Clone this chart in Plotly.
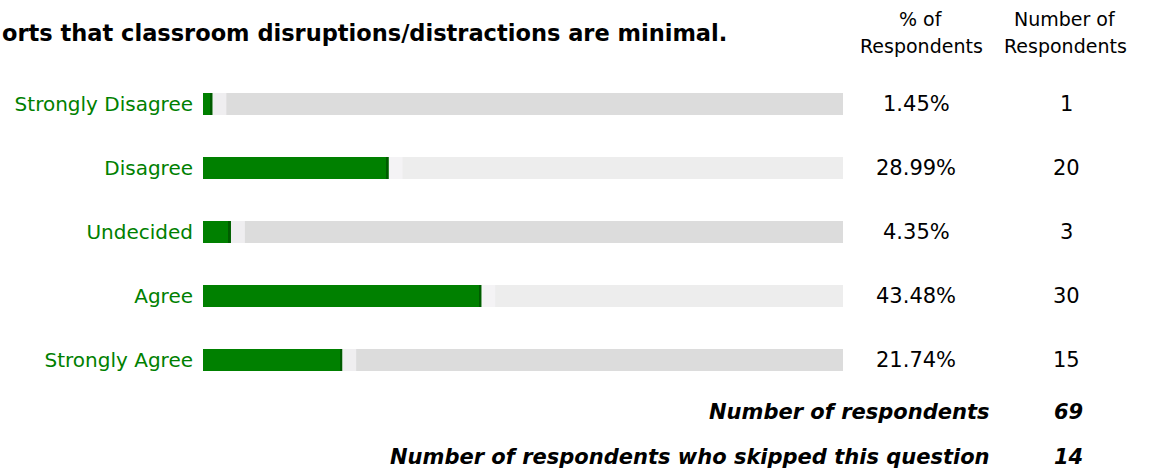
import plotly.graph_objects as go

categories = ["Strongly Disagree", "Disagree", "Undecided", "Agree", "Strongly Agree"]
percents = [1.45, 28.99, 4.35, 43.48, 21.74]
counts = [1, 20, 3, 30, 15]
track_colors = ["#dcdcdc", "#ededed", "#dcdcdc", "#ededed", "#dcdcdc"]
title_text = "orts that classroom disruptions/distractions are minimal."
total_respondents = 69
skipped = 14

W, H = 1150, 472
FONT = "DejaVu Sans, sans-serif"
GREEN = "#008000"

fig = go.Figure()

# background tracks (100%)
fig.add_trace(go.Bar(
    y=categories, x=[100] * len(categories), orientation="h",
    marker=dict(color=track_colors, line=dict(width=0)),
    width=0.344, hoverinfo="skip", showlegend=False,
))
# light sheen just after the green bar end
fig.add_trace(go.Bar(
    y=categories, x=[2.2] * len(categories), base=percents, orientation="h",
    marker=dict(color="rgba(245,244,247,0.75)", line=dict(width=0)),
    width=0.344, hoverinfo="skip", showlegend=False,
))
# green bars
fig.add_trace(go.Bar(
    y=categories, x=percents, orientation="h",
    marker=dict(color=GREEN, line=dict(width=0)),
    width=0.344, showlegend=False,
))
# darker edge at bar end
fig.add_trace(go.Bar(
    y=categories, x=[0.3] * len(categories), base=[p - 0.3 for p in percents], orientation="h",
    marker=dict(color="#005c00", line=dict(width=0)),
    width=0.344, hoverinfo="skip", showlegend=False,
))

fig.update_layout(
    width=W, height=H,
    margin=dict(l=0, r=0, t=0, b=0),
    paper_bgcolor="white", plot_bgcolor="white",
    barmode="overlay",
    font=dict(family=FONT, size=20, color="black"),
    xaxis=dict(domain=[203 / W, 843 / W], range=[0, 100], visible=False, fixedrange=True),
    yaxis=dict(
        type="category", categoryarray=categories,
        range=[5.75, -1.625], showgrid=False, zeroline=False, showline=False,
        ticks="outside", ticklen=5, tickcolor="rgba(0,0,0,0)",
        tickfont=dict(family=FONT, size=20, color=GREEN),
    ),
)

def ytop(px):
    # convert a pixel row to y-axis units (rows at 104 + 64*i)
    return (px - 104) / 64.0

# column headers
for xc, l1, l2 in [(921, "% of", "Respondents"), (1065, "Number of", "Respondents")]:
    fig.add_annotation(x=xc / W, y=ytop(19), xref="paper", yref="y", text=l1,
                       showarrow=False, xanchor="center", yanchor="middle",
                       font=dict(family=FONT, size=19, color="black"))
    fig.add_annotation(x=xc / W, y=ytop(46), xref="paper", yref="y", text=l2,
                       showarrow=False, xanchor="center", yanchor="middle",
                       font=dict(family=FONT, size=19, color="black"))

# title
fig.add_annotation(x=0, y=ytop(33), xref="paper", yref="y", text="<b>" + title_text + "</b>",
                   showarrow=False, xanchor="left", yanchor="middle",
                   font=dict(family=FONT, size=22.5, color="black"))

for c, p, n in zip(categories, percents, counts):
    fig.add_annotation(x=916 / W, y=c, xref="paper", yref="y", text=f"{p:.2f}%",
                       showarrow=False, xanchor="center", yanchor="middle",
                       font=dict(family=FONT, size=21, color="black"))
    fig.add_annotation(x=1066 / W, y=c, xref="paper", yref="y", text=str(n),
                       showarrow=False, xanchor="center", yanchor="middle",
                       font=dict(family=FONT, size=21, color="black"))

# footer
for yy, label, val in [(412, "Number of respondents", total_respondents),
                       (457, "Number of respondents who skipped this question", skipped)]:
    fig.add_annotation(x=992 / W, y=ytop(yy), xref="paper", yref="y", text=f"<b><i>{label}</i></b>",
                       showarrow=False, xanchor="right", yanchor="middle",
                       font=dict(family=FONT, size=21, color="black"))
    fig.add_annotation(x=1068 / W, y=ytop(yy), xref="paper", yref="y", text=f"<b><i>{val}</i></b>",
                       showarrow=False, xanchor="center", yanchor="middle",
                       font=dict(family=FONT, size=21, color="black"))

fig.write_html("out.html", config=dict(displayModeBar=False),
               post_script="document.body.style.margin='0';")
